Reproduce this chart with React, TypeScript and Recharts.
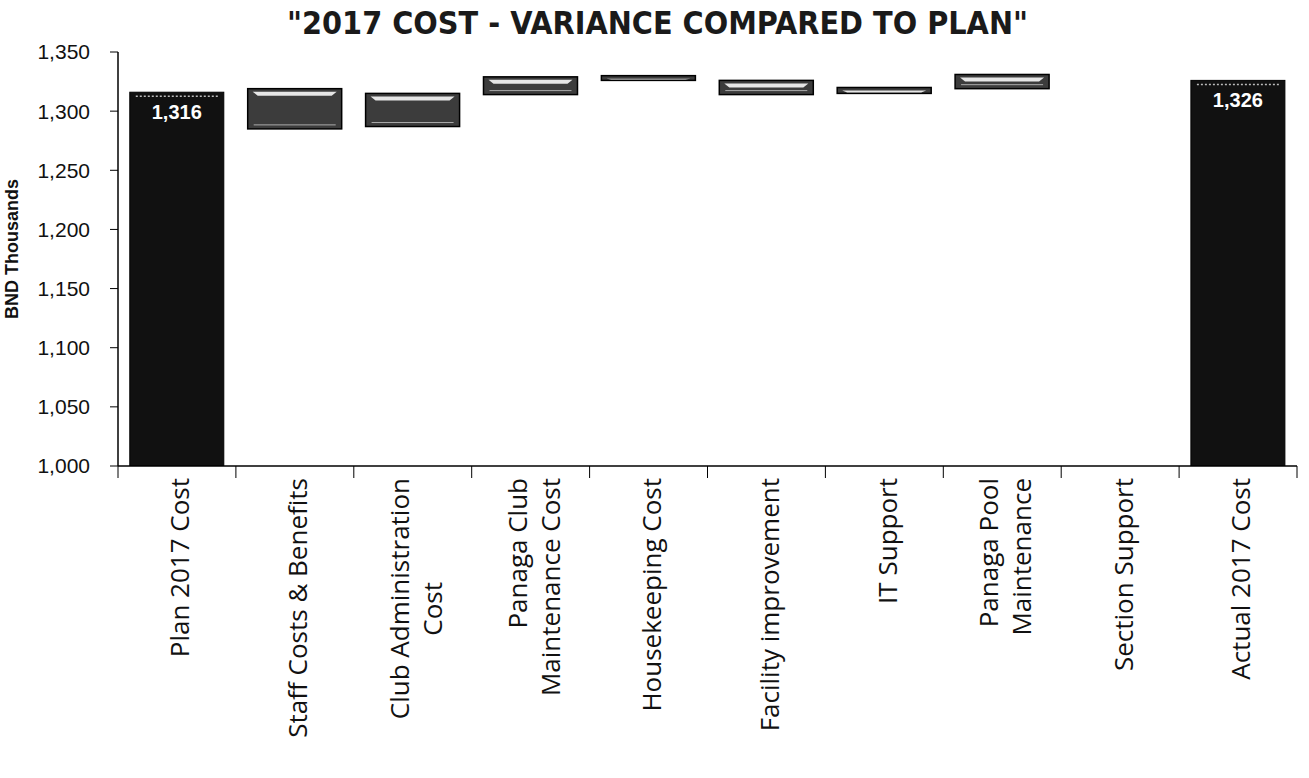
import React from 'react';
import { BarChart, Bar, XAxis, YAxis, LabelList } from 'recharts';

const categories = [
  'Plan 2017 Cost',
  'Staff Costs & Benefits',
  'Club Administration|Cost',
  'Panaga Club|Maintenance Cost',
  'Housekeeping Cost',
  'Facility improvement',
  'IT Support',
  'Panaga Pool|Maintenance',
  'Section Support',
  'Actual 2017 Cost',
];

// bottom and top of each bar (BND thousands)
const lows = [1000, 1285, 1287, 1314, 1326, 1314, 1315, 1319, null, 1000];
const highs = [1316, 1319, 1315, 1329, 1330, 1326, 1320, 1331, null, 1326];
const isTotal = [true, false, false, false, false, false, false, false, false, true];

const yTicks = [1000, 1050, 1100, 1150, 1200, 1250, 1300, 1350];

const data = categories.map((name, i) => ({
  name,
  range: lows[i] == null ? null : [lows[i], highs[i]],
  total: isTotal[i],
  label: isTotal[i] ? highs[i] : null,
}));

const W = 1309;
const H = 778;
const M = { top: 52, right: 12, bottom: 0, left: 0 };
const Y_W = 118;
const X_H = 312;
const BAND = (W - M.left - M.right - Y_W) / categories.length;

// the scan centres the short second line of this one label
const centredLabels = ['Club Administration|Cost'];

const BarShape = (props) => {
  const { x, y, width, height, payload } = props;
  if (height == null || isNaN(height)) return null;
  if (payload.total) {
    return (
      <g>
        <rect x={x} y={y} width={width} height={height} fill="#111" stroke="#000" />
        <line x1={x + 6} x2={x + width - 6} y1={y + 4} y2={y + 4} stroke="#bbb" strokeWidth={1.5} strokeDasharray="2 2" />
      </g>
    );
  }
  const h = Math.max(height, 4);
  return (
    <g>
      <rect x={x} y={y} width={width} height={h} fill="#3c3c3c" stroke="#000" strokeWidth={1.5} />
      <path
        d={`M${x + 5},${y + 3} L${x + width - 5},${y + 3} L${x + width - 10},${y + Math.min(7, h - 1)} L${x + 10},${y + Math.min(7, h - 1)} Z`}
        fill="#e6e6e6"
      />
      {h > 14 && (
        <line x1={x + 6} x2={x + width - 6} y1={y + h - 4} y2={y + h - 4} stroke="#aaa" strokeWidth={1} />
      )}
    </g>
  );
};

const XTick = (props) => {
  const { x, y, payload, index } = props;
  const lines = String(payload.value).split('|');
  const centred = centredLabels.includes(payload.value);
  const lh = 33;
  const fs = 26;
  // rough width of first line, used to centre the second one
  const firstLen = lines[0].length * fs * 0.53;
  return (
    <g>
      <line x1={x - BAND / 2} x2={x - BAND / 2} y1={y} y2={y + 12} stroke="#000" />
      {index === categories.length - 1 && (
        <line x1={x + BAND / 2} x2={x + BAND / 2} y1={y} y2={y + 12} stroke="#000" />
      )}
      <g transform={`translate(${x + 3},${y + 12}) rotate(-90)`}>
        {lines.map((t, i) => (
          <text
            key={i}
            x={centred && i > 0 ? -firstLen / 2 : 0}
            y={(i - (lines.length - 1) / 2) * lh}
            dy="0.36em"
            textAnchor={centred && i > 0 ? 'middle' : 'end'}
            fontSize={fs}
            fontFamily="'Open Sans', sans-serif"
            fill="#111"
          >
            {t}
          </text>
        ))}
      </g>
    </g>
  );
};

const TotalLabel = (props) => {
  const { x, y, width, value } = props;
  if (value == null) return null;
  return (
    <text
      x={x + width / 2}
      y={y + 27}
      textAnchor="middle"
      fill="#fff"
      fontSize={20}
      fontWeight="bold"
      fontFamily="'Liberation Sans', Arial, sans-serif"
    >
      {Number(value).toLocaleString('en-US')}
    </text>
  );
};

export default function App() {
  return (
    <div style={{ position: 'absolute', left: 0, top: 0, width: W, height: H, background: '#fff' }}>
      <div
        style={{
          position: 'absolute',
          left: 0,
          top: 4,
          width: W,
          paddingLeft: 6,
          boxSizing: 'border-box',
          textAlign: 'center',
          fontFamily: "'DejaVu Sans Condensed', sans-serif",
          fontSize: 32,
          fontWeight: 'bold',
          color: '#1a1a1a',
        }}
      >
        "2017 COST - VARIANCE COMPARED TO PLAN"
      </div>
      <BarChart width={W} height={H} data={data} margin={M} barCategoryGap="10%">
        <XAxis
          dataKey="name"
          interval={0}
          height={X_H}
          axisLine={{ stroke: '#000', strokeWidth: 1.5 }}
          tickLine={false}
          tickSize={0}
          tickMargin={0}
          tick={<XTick />}
        />
        <YAxis
          domain={[1000, 1350]}
          ticks={yTicks}
          allowDataOverflow
          width={Y_W}
          axisLine={{ stroke: '#000', strokeWidth: 1.5 }}
          tickLine={{ stroke: '#000' }}
          tickSize={8}
          tickMargin={20}
          tickFormatter={(v) => v.toLocaleString('en-US')}
          tick={{ fill: '#111', fontSize: 21, fontFamily: "'Liberation Sans', Arial, sans-serif" }}
          label={{
            value: 'BND Thousands',
            angle: -90,
            position: 'insideLeft',
            offset: 12,
            dy: -10,
            style: { fontSize: 18, fontWeight: 'bold', fill: '#111', fontFamily: "'Liberation Sans', Arial, sans-serif", textAnchor: 'middle' },
          }}
        />
        <Bar dataKey="range" shape={<BarShape />} isAnimationActive={false}>
          <LabelList dataKey="label" content={<TotalLabel />} />
        </Bar>
      </BarChart>
    </div>
  );
}
